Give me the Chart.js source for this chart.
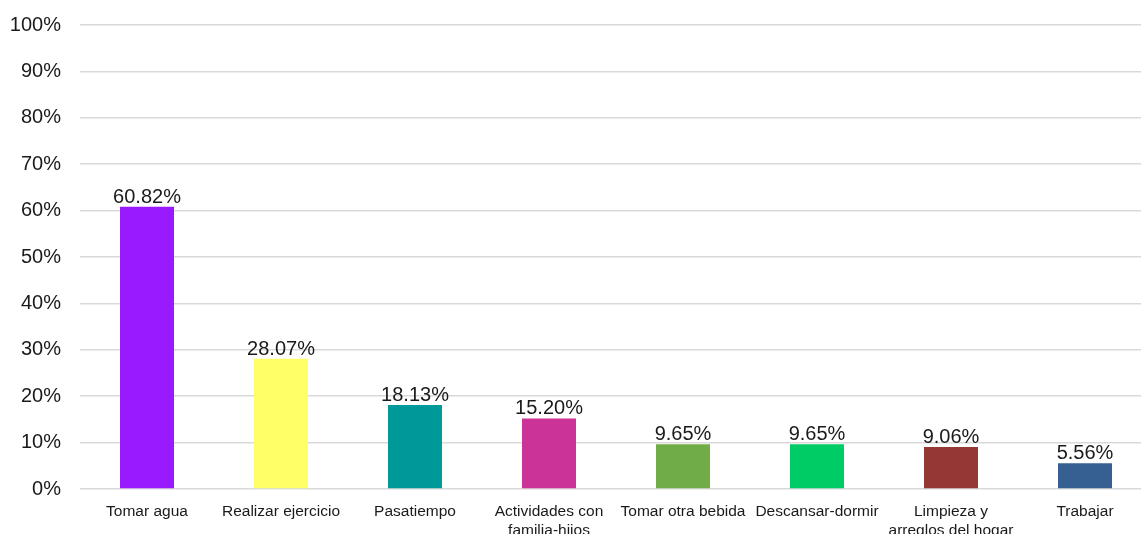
<!DOCTYPE html>
<html>
<head>
<meta charset="utf-8">
<script src="https://cdn.jsdelivr.net/npm/chart.js@4/dist/chart.umd.min.js"></script>
<style>
  html, body { margin:0; padding:0; background:#fff; overflow:hidden; }
  #wrap { width:1153px; height:534px; position:relative; }
</style>
</head>
<body>
<div id="wrap"><canvas id="actChart"></canvas></div>
<script>
const categories = [
  'Tomar agua', 'Realizar ejercicio', 'Pasatiempo', ['Actividades con', 'familia-hijos'],
  'Tomar otra bebida', 'Descansar-dormir', ['Limpieza y', 'arreglos del hogar'], 'Trabajar'
];
const values = [60.82, 28.07, 18.13, 15.20, 9.65, 9.65, 9.06, 5.56];
const barColors = ['#9A1AFF', '#FFFF66', '#009999', '#CC3399', '#70AD47', '#00CC66', '#953735', '#376092'];
const yTicks = [0, 10, 20, 30, 40, 50, 60, 70, 80, 90, 100];

const FONT = "'Liberation Sans', Arial, sans-serif";

// value labels above each bar
const valueLabels = {
  id: 'valueLabels',
  afterDatasetsDraw(chart) {
    const ctx = chart.ctx;
    const meta = chart.getDatasetMeta(0);
    ctx.save();
    ctx.font = '20px ' + FONT;
    ctx.fillStyle = '#1a1a1a';
    ctx.textAlign = 'center';
    ctx.textBaseline = 'alphabetic';
    meta.data.forEach((bar, i) => {
      ctx.fillText(values[i].toFixed(2) + '%', bar.x, bar.y - 4);
    });
    ctx.restore();
  }
};

new Chart(document.getElementById('actChart'), {
  type: 'bar',
  data: {
    labels: categories,
    datasets: [{ data: values, backgroundColor: barColors, categoryPercentage: 1, barPercentage: 0.403 }]
  },
  options: {
    responsive: true, maintainAspectRatio: false, animation: false,
    layout: { padding: { top: 25, right: 1, left: 0, bottom: 0 } },
    plugins: { legend: { display: false }, tooltip: { enabled: false } },
    scales: {
      x: {
        grid: { display: false },
        border: { display: false },
        afterFit: s => { s.height = 45; s.paddingLeft = 0; s.paddingRight = 0; },
        ticks: { color: '#1a1a1a', font: { family: FONT, size: 15.5, lineHeight: 1.25 }, padding: 5, maxRotation: 0, autoSkip: false }
      },
      y: {
        min: 0, max: 100,
        afterFit: s => { s.width = 80; s.paddingTop = 0; s.paddingBottom = 0; },
        afterBuildTicks: s => { s.ticks = yTicks.map(v => ({ value: v })); },
        grid: { color: '#d9d9d9', lineWidth: 1.6, drawTicks: false },
        border: { display: false },
        ticks: { color: '#1a1a1a', font: { family: FONT, size: 20 }, padding: 19, callback: v => v + '%' }
      }
    }
  },
  plugins: [valueLabels]
});
</script>
</body>
</html>
